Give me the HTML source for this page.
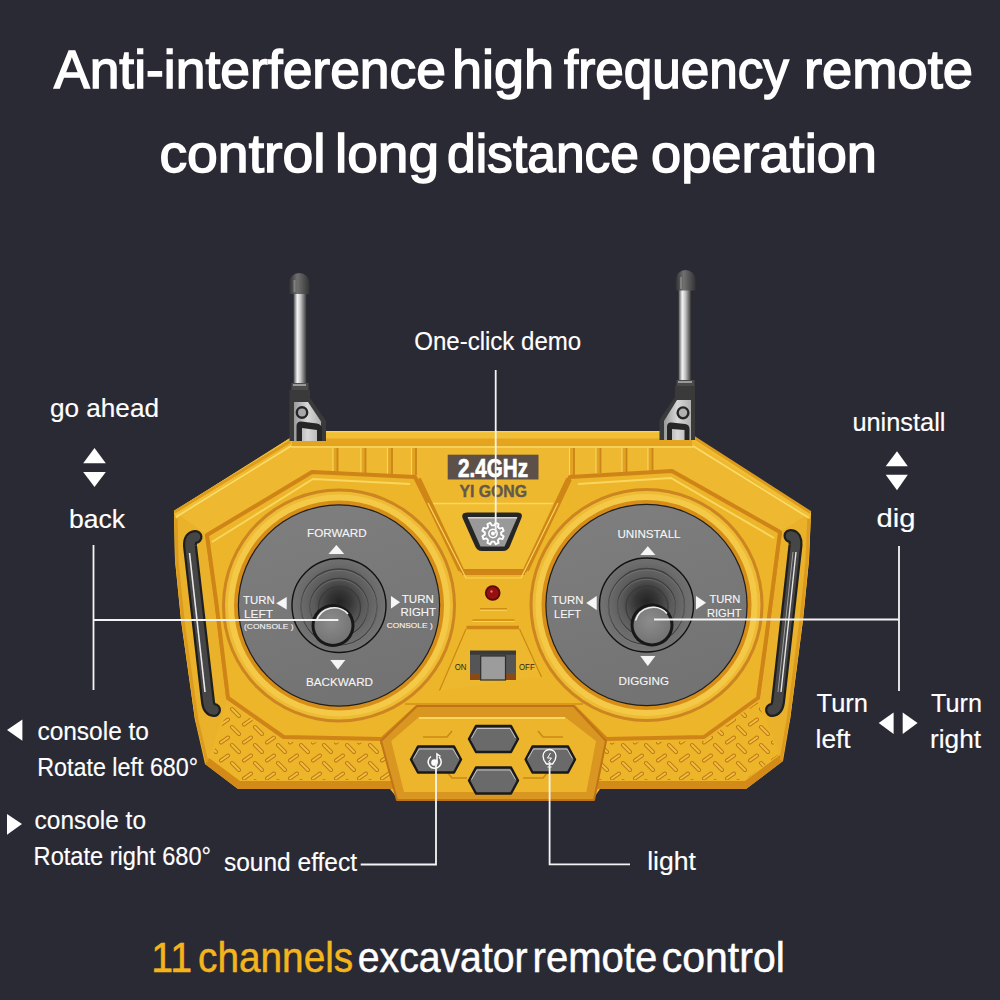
<!DOCTYPE html>
<html><head><meta charset="utf-8">
<style>
html,body{margin:0;padding:0;width:1000px;height:1000px;overflow:hidden;background:#2a2a35;}
svg{display:block;}
text{font-family:"Liberation Sans",sans-serif;}
</style></head>
<body>
<svg width="1000" height="1000" viewBox="0 0 1000 1000">
<rect width="1000" height="1000" fill="#2a2a35"/>
<!-- TITLE -->
<g fill="#ffffff" stroke="#ffffff" stroke-width="1.5" font-size="54">
<text id="w1_0" x="54.0" y="87.6" textLength="392.0" lengthAdjust="spacingAndGlyphs">Anti-interference</text>
<text id="w1_1" x="452.0" y="87.6" textLength="102.0" lengthAdjust="spacingAndGlyphs">high</text>
<text id="w1_2" x="564.0" y="87.6" textLength="225.0" lengthAdjust="spacingAndGlyphs">frequency</text>
<text id="w1_3" x="804.0" y="87.6" textLength="169.0" lengthAdjust="spacingAndGlyphs">remote</text>
<text id="w2_0" x="159.4" y="172.4" textLength="166.2" lengthAdjust="spacingAndGlyphs">control</text>
<text id="w2_1" x="335.0" y="172.4" textLength="104.0" lengthAdjust="spacingAndGlyphs">long</text>
<text id="w2_2" x="447.0" y="172.4" textLength="192.0" lengthAdjust="spacingAndGlyphs">distance</text>
<text id="w2_3" x="651.0" y="172.4" textLength="226.0" lengthAdjust="spacingAndGlyphs">operation</text>
</g>

<!-- BODY -->
<defs>
<pattern id="tread" x="224" y="739" width="23" height="18" patternUnits="userSpaceOnUse">
<g fill="none" stroke-linecap="round">
<path d="M-3,3.5 L4,-1.5 M20,3.5 L27,-1.5 M-3,21.5 L4,16.5 M20,21.5 L27,16.5 M8,6 L15,13" stroke="#c27a14" stroke-width="4"/>
<path d="M-3,3.5 L4,-1.5 M20,3.5 L27,-1.5 M-3,21.5 L4,16.5 M20,21.5 L27,16.5 M8,6 L15,13" stroke="#f0bf3e" stroke-width="2"/>
</g>
</pattern>
<radialGradient id="well" cx="0.5" cy="0.46" r="0.55">
<stop offset="0" stop-color="#242424"/>
<stop offset="0.22" stop-color="#363636"/>
<stop offset="0.48" stop-color="#5a5a5a"/>
<stop offset="0.75" stop-color="#6c6c6c"/>
<stop offset="1" stop-color="#767676"/>
</radialGradient>
<radialGradient id="knob" cx="0.45" cy="0.4" r="0.6">
<stop offset="0" stop-color="#8c8c8c"/>
<stop offset="1" stop-color="#747474"/>
</radialGradient>
<linearGradient id="rod" x1="0" x2="1" y1="0" y2="0">
<stop offset="0" stop-color="#4a4a4a"/>
<stop offset="0.3" stop-color="#f4f4f4"/>
<stop offset="0.55" stop-color="#c4c4c4"/>
<stop offset="0.8" stop-color="#777"/>
<stop offset="1" stop-color="#3a3a3a"/>
</linearGradient>
<linearGradient id="disc" x1="0" x2="0.3" y1="0" y2="1">
<stop offset="0" stop-color="#7f7f7f"/>
<stop offset="1" stop-color="#737373"/>
</linearGradient>
<linearGradient id="cap" x1="0" x2="1" y1="0" y2="0">
<stop offset="0" stop-color="#2e2e2e"/>
<stop offset="0.4" stop-color="#707070"/>
<stop offset="1" stop-color="#333"/>
</linearGradient>
<linearGradient id="hinge" x1="0" x2="1" y1="0" y2="0">
<stop offset="0" stop-color="#9a9a9a"/>
<stop offset="0.5" stop-color="#d8d8d8"/>
<stop offset="1" stop-color="#b0b0b0"/>
</linearGradient>
</defs>
<g id="remote">
<!-- body base -->
<path d="M290,438 L326,431 L660,431 L694,437 L811,512 L809,560 L803,620 L790,720 L783,761 L746,789 L600,789 L593,799 L398,799 L390,789 L238,789 L205,764 L195,720 L181,620 L175,560 L174,511 Z" fill="#ecb52a"/>
<!-- bottom shade -->

<path d="M209,758 L240,781 L745,781 L780,755 L783,761 L746,789 L238,789 L205,764 Z" fill="#d38a18"/>
<!-- side rims -->
<path d="M174,511 L207,535 L216,600 L228,698 L209,758 L195,720 L181,620 L175,560 Z" fill="#eab12a"/>
<path d="M811,512 L780,532 L766,640 L758,698 L780,755 L790,720 L803,620 L809,560 Z" fill="#eab12a"/>
<path d="M176,514 L177,560 L183,620 L197,720 L207,762" fill="none" stroke="#dc9a1e" stroke-width="3"/>
<path d="M809,514 L807,560 L801,620 L788,720 L781,760" fill="none" stroke="#dc9a1e" stroke-width="3"/>
<path d="M207,535 L216,600 L228,698" fill="none" stroke="#d08716" stroke-width="3.5"/>
<path d="M780,532 L766,640 L758,698" fill="none" stroke="#d08716" stroke-width="3.5"/>
<path d="M211,540 L220,600 L232,696" fill="none" stroke="#f7d159" stroke-width="1.2"/>
<path d="M776,536 L762,640 L754,696" fill="none" stroke="#f7d159" stroke-width="1.2"/>
<!-- top face strip -->
<path d="M174,511 L290,441 L326,431 L660,431 L694,437 L811,512 L780,532 L672,471 L570,477 L525,571 L462,571 L415,477 L312,472 L207,535 Z" fill="#eeb930"/>
<path d="M290,438 L326,431 L660,431 L694,437 L811,512 L810,519 L692,439 L292,439 L176,519 L174,511 Z" fill="#f1bf36"/>
<path d="M292,438.5 L692,438.5 L692,446 L292,446 Z" fill="#e5a420"/>
<path d="M174.5,512 L290,441.5 M694,437.5 L810.5,512.5" fill="none" stroke="#de9c1c" stroke-width="3"/>
<path d="M176,517 L291,446 M693,446 L809,518" fill="none" stroke="#fadc6c" stroke-width="1.6"/>
<path d="M291,447 L693,447" fill="none" stroke="#f9da66" stroke-width="1.5"/>
<path d="M326,431.6 L660,431.6" fill="none" stroke="#f8d260" stroke-width="1.2"/>
<!-- grooves on top strip -->
<g fill="#e3a322">
<rect x="333" y="448" width="4.5" height="25"/><rect x="361" y="448" width="4.5" height="25"/><rect x="387.5" y="448" width="4.5" height="27"/><rect x="411.5" y="448" width="4.5" height="27"/>
<rect x="569.5" y="448" width="4.5" height="27"/><rect x="596" y="448" width="4.5" height="25"/><rect x="622" y="448" width="4.5" height="25"/><rect x="648" y="448" width="4.5" height="24"/>
</g>
<g stroke="#c98518" stroke-width="1.8">
<path d="M337.5,448 V473 M365.5,448 V473 M392,448 V475 M416,448 V475 M574,448 V475 M600.5,448 V473 M626.5,448 V473 M652.5,448 V472"/>
</g>
<g stroke="#f8d864" stroke-width="1.1">
<path d="M333,448 V473 M361,448 V473 M387.5,448 V475 M411.5,448 V475 M569.5,448 V475 M596,448 V473 M622,448 V473 M648,448 V472"/>
</g>
<!-- antennas -->
<g id="antL">
<rect x="293.5" y="290" width="12.8" height="96" fill="url(#rod)"/>
<path d="M289,294 V283.3 A10.25,10.25 0 0 1 309.5,283.3 V294 Z" fill="url(#cap)"/><path d="M294.5,280 V292" stroke="#9a9a9a" stroke-width="2" opacity="0.6"/>
<rect x="291.5" y="383" width="17" height="8" fill="#4a4a4a"/>
<rect x="293" y="384" width="13" height="2" fill="#999"/>
<path d="M289.5,390 L310,390 L310,398 L326,421 L326,441 L289.5,441 Z" fill="#3a3a3a"/>
<path d="M294,402 L308,402 L321,421.5 L321,441 L294,441 Z" fill="url(#hinge)"/>
<circle cx="302" cy="412.5" r="5.2" fill="#a8a8a8" stroke="#262626" stroke-width="2.4"/>
<path d="M296.5,441 V426 Q296.5,421.5 301,421.5 L317,423.5 Q322,424.5 322,429 V441 H317 V430 L302,428 V441 Z" fill="#262626"/>
</g>
<g id="antR">
<rect x="678.5" y="287" width="12.4" height="96" fill="url(#rod)"/>
<path d="M675.5,290.5 V280 A10.05,10.05 0 0 1 695.6,280 V290.5 Z" fill="url(#cap)"/><path d="M681,277 V289" stroke="#9a9a9a" stroke-width="2" opacity="0.6"/>
<rect x="676.5" y="380" width="18" height="8" fill="#4a4a4a"/>
<rect x="678" y="381" width="14" height="2" fill="#999"/>
<path d="M675,386 L695,386 L695,440 L659.5,440 L659.5,420 L675,397 Z" fill="#3a3a3a"/>
<path d="M677,400 L691,400 L691,440 L664,440 L664,421 Z" fill="url(#hinge)"/>
<circle cx="683" cy="412.8" r="5.4" fill="#b0b0b0" stroke="#262626" stroke-width="2.4"/>
<path d="M667,440 V427 Q667,422 671.5,422.5 L685,424 Q689.5,424.5 689.5,429 V440 H684.5 V430 L672,429 V440 Z" fill="#262626"/>
</g>
<!-- frame panel -->
<path id="frame" d="M207,535 L312,472 L415,477 L462,571 L525,571 L570,477 L672,471 L780,532 L766,640 L758,698 L704,737 L606,739 L574,707 L417,707 L382,739 L283.6,737 L228,698 L216,600 Z" fill="#ecb52a" stroke="#cf8418" stroke-width="4" stroke-linejoin="round"/>
<path d="M212,542 L313,479 L410,484" fill="none" stroke="#f9d65e" stroke-width="2"/>
<path d="M578,484 L671,478 L774,538" fill="none" stroke="#f9d65e" stroke-width="2"/>
<!-- tread plate areas -->
<path d="M212,758 L241,780 L392,780 L383,743 L283,742 L229,703 Z" fill="url(#tread)"/>
<path d="M778,755 L745,780 L598,780 L606,743 L705,741 L758,702 Z" fill="url(#tread)"/>
<!-- center V panel -->
<path d="M419,481 L568,481 L525,568 L462,568 Z" fill="#edb82e"/>
<path d="M433,503 L553,503 L524,569 L464,569 Z" fill="#efbc32"/>
<path d="M433,503.5 L553,503.5" stroke="#f9d65e" stroke-width="1.6"/>
<path d="M418,479 L461,570 M569,479 L526,570" stroke="#d08616" stroke-width="6"/>
<path d="M462,573 H525" stroke="#d08616" stroke-width="4"/>
<path d="M428,503 L466,578 H521 L558,503" fill="none" stroke="#f9d65e" stroke-width="1.2"/>
<!-- 2.4GHz label -->
<rect x="447.7" y="454.7" width="90.8" height="24.8" fill="#5c5049"/>
<text x="458" y="477.2" font-size="25" font-weight="bold" fill="#ffffff" stroke="#ffffff" stroke-width="0.7" textLength="70" lengthAdjust="spacingAndGlyphs">2.4GHz</text>
<text x="459.5" y="496.7" font-size="16" font-weight="bold" fill="#66584a" stroke="#66584a" stroke-width="0.4" textLength="67.5" lengthAdjust="spacingAndGlyphs">YI GONG</text>
<!-- demo button -->
<path d="M468,512.5 L517,512.5 Q524,512.5 521,519 L510,546 Q508,551 503,551 L482,551 Q477,551 475,546 L463,519 Q460,512.5 468,512.5 Z" fill="#262626"/>
<path d="M467.5,517 L517.5,517 L504.5,546.5 L480.5,546.5 Z" fill="#999999"/>
<path d="M468,517.8 L517,517.8" stroke="#d4d4d4" stroke-width="1.4"/>
<!-- LED -->
<circle cx="492.7" cy="593" r="7.8" fill="#5a0a0a"/>
<circle cx="492.7" cy="593" r="6" fill="#961010"/>
<circle cx="491.5" cy="591.5" r="1.2" fill="#e07070"/>
<path d="M480,608.8 H507 M472.5,620 H514.5" stroke="#cf8c12" stroke-width="1.4"/>
<path d="M480,610.3 H507 M472.5,621.5 H514.5" stroke="#f8d35a" stroke-width="1"/>
<!-- switch trapezoid -->
<path d="M466.5,627.5 L519,627.5 L541.5,677 L439.5,690.5 Z" fill="#edb82e"/>
<path d="M466.5,627.5 L519,627.5" stroke="#d08616" stroke-width="3.5"/>
<path d="M466,629 L439.5,690.5 M519.5,629 L541.5,677" stroke="#c98a12" stroke-width="1.2"/>
<rect x="470" y="650.7" width="46" height="29.3" fill="#555"/>
<rect x="470" y="650.7" width="46" height="4" fill="#3a3a3a"/>
<rect x="470" y="673" width="46" height="7" fill="#8a4a18"/>
<rect x="480.7" y="656" width="24.8" height="24" fill="#9c9c9c" stroke="#2e2e2e" stroke-width="1.2"/>
<text x="454.8" y="670" font-size="9" fill="#2e2818" textLength="11.7" lengthAdjust="spacingAndGlyphs">ON</text>
<text x="519" y="670" font-size="9" fill="#2e2818" textLength="15.7" lengthAdjust="spacingAndGlyphs">OFF</text>
<path d="M405,704 H583" stroke="#d08616" stroke-width="2" opacity="0.6"/>
<!-- center bottom panel -->
<path d="M417,706 L573.6,706 L606,741 L594,800 L397,800 L381,741 Z" fill="#d99620" stroke="#c07418" stroke-width="2" stroke-linejoin="round"/>
<path d="M418.4,717.5 L565.6,717.5 L596,741 L586.4,792 L404,792 L391.2,741 Z" fill="#ecb52c"/>
<path d="M419,718 L565,718" stroke="#f9d65e" stroke-width="1.8"/>
<g stroke="#c98a12" stroke-width="1.6" fill="none">
<path d="M423,737 H447 L452,731 M467,778 H452 L447,772"/>
<path d="M538,731 L543,737 H563 M523,778 H543 L548,772"/>
</g>
<!-- hex buttons -->
<g stroke="#1a1a1a" stroke-width="2.4" fill="#6a6a6a" stroke-linejoin="round">
<path d="M476,726 L511,726 L518,739 L511,752 L476,752 L469,739 Z"/>
<path d="M476,767.5 L511,767.5 L518,780.5 L511,793.5 L476,793.5 L469,780.5 Z"/>
<path d="M418,746.5 L454,746.5 L461,759.5 L454,772.5 L418,772.5 L411,759.5 Z"/>
<path d="M532.5,746.5 L568,746.5 L575,759.5 L568,772.5 L532.5,772.5 L525.6,759.5 Z"/>
</g>
<g stroke="#c4c4c4" stroke-width="1" fill="none" stroke-linejoin="round">
<path d="M471.5,738 L477,728.5 H510 L515.5,738 M471.5,779.5 L477,770 H510 L515.5,779.5 M413.5,758.5 L419,749 H453 L458.5,758.5 M528,758.5 L533.5,749 H567 L572.5,758.5"/>
</g>
<!-- grip bars -->
<path d="M195.5,537 Q189.5,537.5 190,546 L208,702 Q209,709.5 214,710" fill="none" stroke="#1f1f1f" stroke-width="14" stroke-linecap="round"/>
<path d="M195.5,537 Q189.5,537.5 190,546 L208,702 Q209,709.5 214,710" fill="none" stroke="#464646" stroke-width="9.5" stroke-linecap="round"/>
<path d="M189.5,553 L205,692" stroke="#e8e8e8" stroke-width="1.6"/>
<path d="M790.5,536 Q796,536.5 795.5,545 L778,702 Q777,709.5 772,710" fill="none" stroke="#1f1f1f" stroke-width="14" stroke-linecap="round"/>
<path d="M790.5,536 Q796,536.5 795.5,545 L778,702 Q777,709.5 772,710" fill="none" stroke="#464646" stroke-width="9.5" stroke-linecap="round"/>
<path d="M796,552 L781,692" stroke="#e4e4e4" stroke-width="1.4"/>
<path d="M793,552 L778,692" stroke="#b8b8b8" stroke-width="0.8"/>
<!-- discs -->
<g id="discL">
<circle cx="339" cy="605.5" r="117" fill="#cc8520"/>
<circle cx="339" cy="605.5" r="114" fill="#eebb35"/>
<circle cx="339" cy="605.5" r="111" fill="#f5c948"/>
<circle cx="339" cy="605.5" r="105" fill="#d68e18"/>
<circle cx="339" cy="605.5" r="101.2" fill="#1e1e1e"/>
<circle cx="339" cy="605.5" r="100" fill="url(#disc)"/>
</g>
<g id="discR">
<circle cx="646.5" cy="605" r="117" fill="#cc8520"/>
<circle cx="646.5" cy="605" r="114" fill="#eebb35"/>
<circle cx="646.5" cy="605" r="111" fill="#f5c948"/>
<circle cx="646.5" cy="605" r="105" fill="#d68e18"/>
<circle cx="646.5" cy="605" r="101.2" fill="#1e1e1e"/>
<circle cx="646.5" cy="605" r="100" fill="url(#disc)"/>
</g>
<!-- wells -->
<g>
<circle cx="339" cy="605.5" r="47" fill="url(#well)"/>
<g fill="none" stroke="#3a3a3a" stroke-width="1.3" opacity="0.85">
<circle cx="339" cy="607.0" r="38"/><circle cx="339" cy="607.5" r="29"/><circle cx="339.5" cy="607.5" r="21"/>
</g>
<g fill="none" stroke="#8a8a8a" stroke-width="0.8" opacity="0.5">
<circle cx="339" cy="608.3" r="38"/><circle cx="339" cy="608.8" r="29"/>
</g>
<circle cx="339" cy="605.5" r="47" fill="none" stroke="#121212" stroke-width="1.4"/>
<circle cx="646.5" cy="605" r="47" fill="url(#well)"/>
<g fill="none" stroke="#3a3a3a" stroke-width="1.3" opacity="0.85">
<circle cx="646.5" cy="606.5" r="38"/><circle cx="646.5" cy="607" r="29"/><circle cx="647.0" cy="607" r="21"/>
</g>
<g fill="none" stroke="#8a8a8a" stroke-width="0.8" opacity="0.5">
<circle cx="646.5" cy="607.8" r="38"/><circle cx="646.5" cy="608.3" r="29"/>
</g>
<circle cx="646.5" cy="605" r="47" fill="none" stroke="#121212" stroke-width="1.4"/>
</g>
<!-- knobs -->
<circle cx="333" cy="625.5" r="21.5" fill="#181818"/>
<circle cx="333" cy="625.5" r="18.5" fill="url(#knob)"/>
<path d="M316.5,621 A18.5,18.5 0 0 1 348,614" fill="none" stroke="#f0f0f0" stroke-width="1.6"/>
<circle cx="652" cy="625" r="21.5" fill="#181818"/>
<circle cx="652" cy="625" r="18.5" fill="url(#knob)"/>
<path d="M635.5,620.5 A18.5,18.5 0 0 1 667,613.5" fill="none" stroke="#f0f0f0" stroke-width="1.6"/>
<!-- disc text -->
<g fill="#f6f6f6" stroke="#f6f6f6" stroke-width="0.1" font-size="11">
<text x="307" y="537" textLength="59.7" lengthAdjust="spacingAndGlyphs">FORWARD</text>
<text x="306" y="685.5" textLength="67" lengthAdjust="spacingAndGlyphs">BACKWARD</text>
<text x="243" y="603.8" textLength="31.7" lengthAdjust="spacingAndGlyphs">TURN</text>
<text x="244" y="617.6" textLength="29" lengthAdjust="spacingAndGlyphs">LEFT</text>
<text x="401.7" y="602.7" textLength="32.3" lengthAdjust="spacingAndGlyphs">TURN</text>
<text x="400.5" y="615.5" textLength="35.5" lengthAdjust="spacingAndGlyphs">RIGHT</text>
<text x="617.4" y="537.8" textLength="63.2" lengthAdjust="spacingAndGlyphs">UNINSTALL</text>
<text x="618.5" y="685" textLength="50.5" lengthAdjust="spacingAndGlyphs">DIGGING</text>
<text x="551.8" y="603.8" textLength="31.6" lengthAdjust="spacingAndGlyphs">TURN</text>
<text x="554" y="617.6" textLength="27" lengthAdjust="spacingAndGlyphs">LEFT</text>
<text x="709.4" y="602.7" textLength="31" lengthAdjust="spacingAndGlyphs">TURN</text>
<text x="707" y="616.5" textLength="34.6" lengthAdjust="spacingAndGlyphs">RIGHT</text>
<text x="244" y="629" font-size="7.5" textLength="49.6" lengthAdjust="spacingAndGlyphs">(CONSOLE )</text>
<text x="386.7" y="628" font-size="7.5" textLength="46" lengthAdjust="spacingAndGlyphs">CONSOLE )</text>
<polygon points="336.4,545 344.2,554 328.6,554"/>
<polygon points="330.4,660 345.3,660 337.8,669.4"/>
<polygon points="276.3,603.3 286.7,597 286.7,609.6"/>
<polygon points="391,596 400,602.2 391,608.4"/>
<polygon points="647.8,546.3 655.3,555 640.4,555"/>
<polygon points="640.4,656 655.3,656 647.8,666"/>
<polygon points="586.3,603 596.7,596 596.7,610"/>
<polygon points="696,596 706,602.8 696,609.6"/>
</g>
<!-- gear icon on demo button -->
<g transform="translate(493,533.5) rotate(22.5)" fill="none" stroke="#ffffff" stroke-width="1.9" stroke-linejoin="round">
<path d="M7.94,-2.04 L10.89,-1.55 L10.89,1.55 L7.94,2.04 L7.06,4.17 L8.80,6.60 L6.60,8.80 L4.17,7.06 L2.04,7.94 L1.55,10.89 L-1.55,10.89 L-2.04,7.94 L-4.17,7.06 L-6.60,8.80 L-8.80,6.60 L-7.06,4.17 L-7.94,2.04 L-10.89,1.55 L-10.89,-1.55 L-7.94,-2.04 L-7.06,-4.17 L-8.80,-6.60 L-6.60,-8.80 L-4.17,-7.06 L-2.04,-7.94 L-1.55,-10.89 L1.55,-10.89 L2.04,-7.94 L4.17,-7.06 L6.60,-8.80 L8.80,-6.60 L7.06,-4.17 Z"/>
<circle r="4.2" stroke-width="1.4"/>
<circle r="2" fill="#ffffff" stroke="none"/>
</g>
<!-- sound icon -->
<g transform="translate(435,761)" fill="none" stroke="#ffffff" stroke-width="1.5">
<path d="M-4,-4.5 A6.5,6.5 0 1 0 4,-4"/>
<circle cx="-0.5" cy="1.5" r="2.6" fill="#ffffff"/>
<path d="M2,1.5 V-7 L5.5,-4.5"/>
</g>
<!-- light icon -->
<g transform="translate(549.5,759)" fill="none" stroke="#ffffff" stroke-width="1.3">
<path d="M-3,5 Q-6.5,1 -6.5,-3 A6.5,6.5 0 1 1 6.5,-3 Q6.5,1 3,5 Z"/>
<path d="M-2,8 H2 M1,-6 L-2,-1 H2 L-1,3" stroke-width="1"/>
</g>
</g>

<!-- LABELS -->
<g fill="#ffffff" stroke="#ffffff" stroke-width="0.15" font-size="25">
<text id="l_demo" x="414.2" y="350" textLength="167.0" lengthAdjust="spacingAndGlyphs">One-click demo</text>
<text id="l_go" x="49.9" y="417.3" textLength="109.1" lengthAdjust="spacingAndGlyphs">go ahead</text>
<text id="l_back" x="69.0" y="528" textLength="56.0" lengthAdjust="spacingAndGlyphs">back</text>
<text id="l_c1" x="37.4" y="740" textLength="111.6" lengthAdjust="spacingAndGlyphs">console to</text>
<text id="l_r1" x="37.2" y="776" textLength="160.9" lengthAdjust="spacingAndGlyphs">Rotate left 680°</text>
<text id="l_c2" x="34.6" y="828.7" textLength="111.4" lengthAdjust="spacingAndGlyphs">console to</text>
<text id="l_r2" x="33.6" y="864.6" textLength="177.4" lengthAdjust="spacingAndGlyphs">Rotate right 680°</text>
<text id="l_snd" x="224.0" y="871" textLength="133.0" lengthAdjust="spacingAndGlyphs">sound effect</text>
<text id="l_light" x="647.2" y="870.4" textLength="48.8" lengthAdjust="spacingAndGlyphs">light</text>
<text id="l_un" x="852.4" y="431" textLength="93.1" lengthAdjust="spacingAndGlyphs">uninstall</text>
<text id="l_dig" x="876.4" y="527" textLength="39.0" lengthAdjust="spacingAndGlyphs">dig</text>
<text id="l_tl1" x="816.6" y="711.7" textLength="51.4" lengthAdjust="spacingAndGlyphs">Turn</text>
<text id="l_tl2" x="815.6" y="748.4" textLength="35.1" lengthAdjust="spacingAndGlyphs">left</text>
<text id="l_tr1" x="931.0" y="711.7" textLength="51.0" lengthAdjust="spacingAndGlyphs">Turn</text>
<text id="l_tr2" x="930.0" y="748.4" textLength="51.0" lengthAdjust="spacingAndGlyphs">right</text>
</g>
<!-- arrows -->
<g fill="#ffffff">
<polygon points="94.5,448 105.8,463.2 83.2,463.2"/>
<polygon points="83.2,472 105.8,472 94.5,487"/>
<polygon points="897,451.2 907.8,466.2 885.7,466.2"/>
<polygon points="885.7,474.8 907.8,474.8 897,490.2"/>
<polygon points="7,730 22.4,719.4 22.4,740.7"/>
<polygon points="7,814 22,824 7,834.7"/>
<polygon points="878.7,723 893.6,712.4 893.6,734"/>
<polygon points="902.7,712.4 917.6,723 902.7,734"/>
</g>
<!-- lines -->
<g stroke="#f4f4f4" stroke-width="1.8" fill="none">
<path d="M93.5,545 V690 M93.5,620 H338.4"/>
<path d="M899,546 V691 M899,619.5 H654"/>
<path d="M495.7,370 V533.5"/>
<path d="M360.7,864.5 H436 V762"/>
<path d="M630,864.4 H549.6 V762"/>
</g>
<!-- BOTTOM -->
<g font-size="42" stroke-width="0.5">
<text id="w3_0" x="151.2" y="971.6" textLength="40.8" lengthAdjust="spacingAndGlyphs" fill="#f4b51c" stroke="#f4b51c">11</text>
<text id="w3_1" x="198.0" y="971.6" textLength="155.2" lengthAdjust="spacingAndGlyphs" fill="#f4b51c" stroke="#f4b51c">channels</text>
<text id="w3_2" x="357.8" y="971.6" textLength="169.8" lengthAdjust="spacingAndGlyphs" fill="#ffffff" stroke="#ffffff">excavator</text>
<text id="w3_3" x="532.6" y="971.6" textLength="124.6" lengthAdjust="spacingAndGlyphs" fill="#ffffff" stroke="#ffffff">remote</text>
<text id="w3_4" x="661.8" y="971.6" textLength="123.0" lengthAdjust="spacingAndGlyphs" fill="#ffffff" stroke="#ffffff">control</text>
</g>
</svg>
</body></html>
